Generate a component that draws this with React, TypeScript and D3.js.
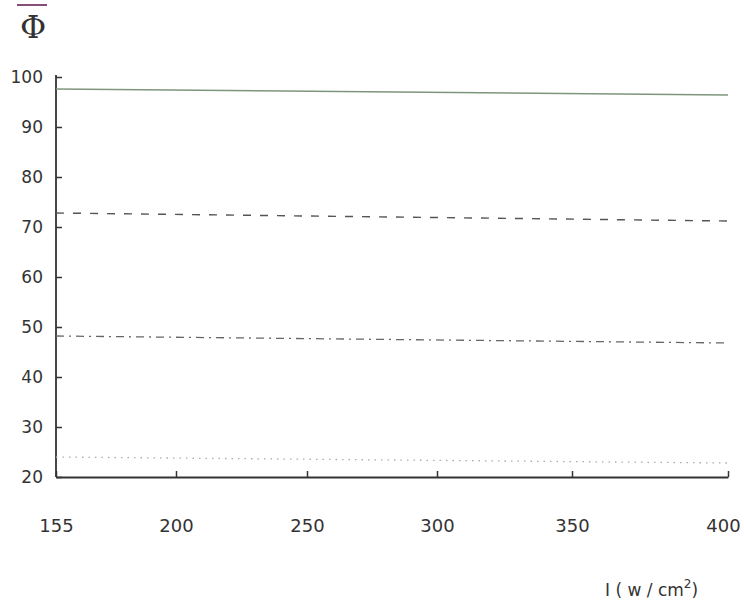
import React, { useEffect, useRef } from "react";
import * as d3 from "d3";

// intensity I (W/cm^2) and the four Φ curves
const xTicks = [155, 200, 250, 300, 350, 400];
const yTicks = [20, 30, 40, 50, 60, 70, 80, 90, 100];
const intensity = [155, 400];
const solidSeries = [97.6, 96.4];
const dashedSeries = [72.8, 71.2];
const dashDotSeries = [48.2, 46.8];
const dottedSeries = [24.0, 22.8];

export default function App() {
  const svgRef = useRef<SVGSVGElement | null>(null);

  useEffect(() => {
    if (!svgRef.current) return;

    const width = 744;
    const height = 602;
    const axisColor = "#333";

    d3.select(svgRef.current).selectAll("*").remove();

    const svg = d3
      .select(svgRef.current)
      .attr("viewBox", `0 0 ${width} ${height}`)
      .attr("width", width)
      .attr("height", height);

    // the printed x axis is not evenly spaced, so map each tick to where it sits
    const x = d3
      .scaleLinear()
      .domain(xTicks)
      .range([56, 176, 307, 437, 572, 728]);

    const y = d3.scaleLinear().domain([20, 100]).range([477, 77]);

    const xAxis = svg
      .append("g")
      .attr("transform", `translate(0,${y(20)})`)
      .call(
        d3
          .axisBottom(x)
          .tickValues(xTicks)
          .tickSizeInner(-6)
          .tickSizeOuter(0)
          .tickPadding(42)
          .tickFormat(d3.format("d"))
      );
    xAxis.select(".domain").attr("stroke", axisColor).attr("stroke-width", 1.8);
    xAxis.selectAll("line").attr("stroke", axisColor).attr("stroke-width", 1.5);
    xAxis
      .selectAll("text")
      .attr("font-family", "'DejaVu Sans', sans-serif")
      .attr("font-size", "18px")
      .attr("fill", axisColor)
      .attr("dx", (d) => ((d as number) === 400 ? -5 : 0));

    const yAxis = svg
      .append("g")
      .attr("transform", `translate(${x(155)},0)`)
      .call(
        d3
          .axisLeft(y)
          .tickValues(yTicks)
          .tickSizeInner(-6)
          .tickSizeOuter(0)
          .tickPadding(13)
          .tickFormat(d3.format("d"))
      );
    yAxis
      .select(".domain")
      .attr("stroke", axisColor)
      .attr("stroke-width", 1.8)
      .attr("d", `M0,${y(20)}V${y(100) - 2}`);
    yAxis.selectAll("line").attr("stroke", axisColor).attr("stroke-width", 1.5);
    yAxis
      .selectAll("text")
      .attr("font-family", "'DejaVu Sans', sans-serif")
      .attr("font-size", "17px")
      .attr("fill", axisColor);

    const line = d3
      .line<number>()
      .x((_, i) => x(intensity[i]))
      .y((d) => y(d));

    const curves = [
      { values: solidSeries, color: "#7d967d", dash: null, w: 1.6 },
      { values: dashedSeries, color: "#555", dash: "8,9", w: 1.4 },
      { values: dashDotSeries, color: "#666", dash: "8,5,2,5", w: 1.3 },
      { values: dottedSeries, color: "#aaa", dash: "1.5,5", w: 1.3 },
    ];

    curves.forEach((c) => {
      svg
        .append("path")
        .datum(c.values)
        .attr("fill", "none")
        .attr("stroke", c.color)
        .attr("stroke-width", c.w)
        .attr("stroke-dasharray", c.dash)
        .attr("d", line);
    });

    // Φ with an overbar as the y label
    svg
      .append("line")
      .attr("x1", 17)
      .attr("x2", 47)
      .attr("y1", 5)
      .attr("y2", 5)
      .attr("stroke", "#7a3a6e")
      .attr("stroke-width", 1.8);

    svg
      .append("text")
      .attr("x", 33)
      .attr("y", 38)
      .attr("text-anchor", "middle")
      .attr("font-family", "'DejaVu Serif', serif")
      .attr("font-size", "32px")
      .attr("fill", axisColor)
      .text("Φ");

    const xLabel = svg
      .append("text")
      .attr("x", 605)
      .attr("y", 596)
      .attr("font-family", "'DejaVu Sans', sans-serif")
      .attr("font-size", "17px")
      .attr("fill", axisColor)
      .attr("xml:space", "preserve")
      .text("I ( w / cm");
    xLabel
      .append("tspan")
      .attr("dy", -8)
      .attr("font-size", "12px")
      .text("2");
    xLabel.append("tspan").attr("dy", 8).text(")");
  }, []);

  return (
    <svg
      ref={svgRef}
      style={{ position: "absolute", left: 0, top: 0, background: "#fff" }}
    />
  );
}
